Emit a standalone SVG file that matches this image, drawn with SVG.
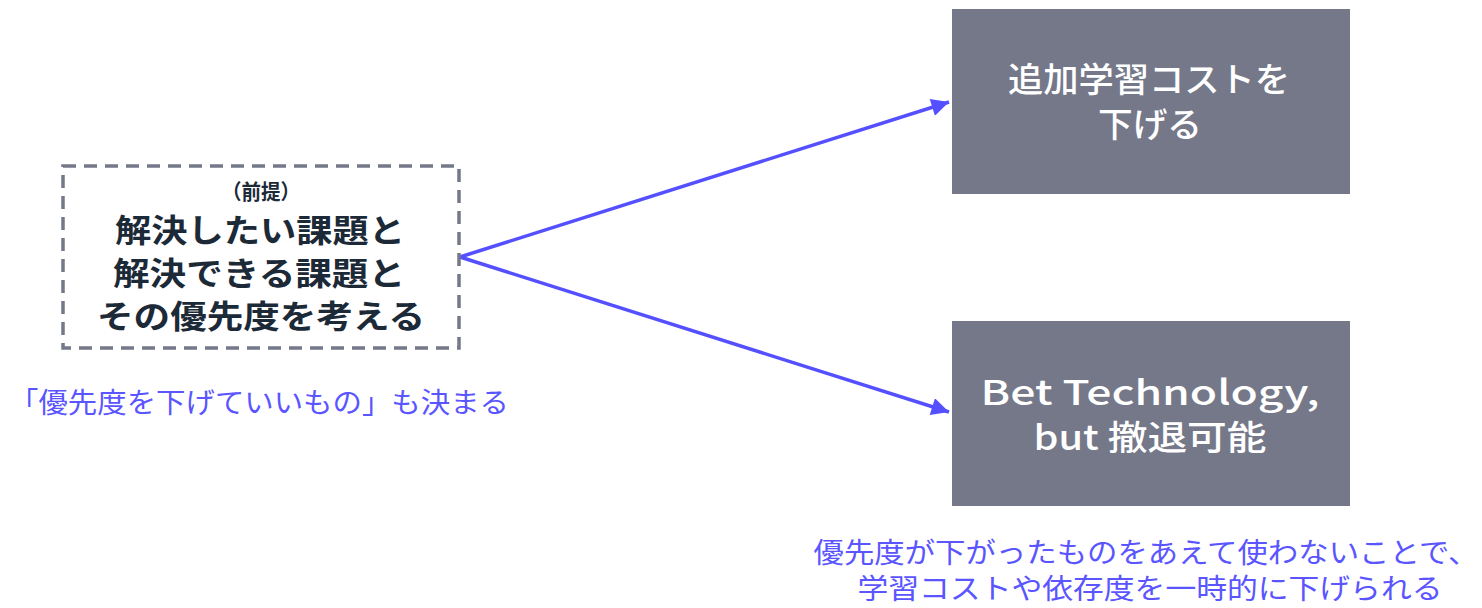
<svg xmlns="http://www.w3.org/2000/svg" width="1482" height="608" viewBox="0 0 1482 608">
<style>
.jp{font-family:"Noto Sans CJK JP","Noto Sans",sans-serif;}
.dark{fill:#1c2937;font-weight:bold;}
.white{fill:#ffffff;font-size:34px;font-weight:500;}
.note{fill:#5a55ff;font-size:28px;}
.box{fill:#747889;}
.conn{stroke:#5550ff;stroke-width:3.5;fill:none;}
</style>
<defs>
<marker id="ah" viewBox="0 0 10 10" refX="10" refY="5" markerWidth="7.5" markerHeight="5" markerUnits="strokeWidth" orient="auto">
<path d="M0,0 L10,5 L0,10 z" fill="#5550ff"/>
</marker>
</defs>
<g id="connectors">
<line class="conn" x1="460" y1="257" x2="949" y2="102" marker-end="url(#ah)"/>
<line class="conn" x1="460" y1="257" x2="949" y2="412" marker-end="url(#ah)"/>
</g>
<g id="premise">
<rect x="63" y="166" width="396" height="182" fill="none" stroke="#747889" stroke-width="3.5" stroke-dasharray="13,8"/>
<text class="jp dark" x="261" y="199" font-size="21" text-anchor="middle" textLength="78" lengthAdjust="spacingAndGlyphs">（前提）</text>
<text class="jp dark" x="260" y="242" font-size="32" text-anchor="middle" textLength="290" lengthAdjust="spacingAndGlyphs">解決したい課題と</text>
<text class="jp dark" x="259" y="285" font-size="32" text-anchor="middle" textLength="292" lengthAdjust="spacingAndGlyphs">解決できる課題と</text>
<text class="jp dark" x="261" y="328" font-size="32" text-anchor="middle" textLength="328" lengthAdjust="spacingAndGlyphs">その優先度を考える</text>
</g>
<g id="note-left">
<text class="jp note" x="259" y="413" text-anchor="middle" textLength="500" lengthAdjust="spacingAndGlyphs">「優先度を下げていいもの」も決まる</text>
</g>
<g id="node-top">
<rect class="box" x="952" y="9" width="398" height="185"/>
<text class="jp white" x="1149" y="92" text-anchor="middle" textLength="282" lengthAdjust="spacingAndGlyphs">追加学習コストを</text>
<text class="jp white" x="1150" y="137" text-anchor="middle" textLength="104" lengthAdjust="spacingAndGlyphs">下げる</text>
</g>
<g id="node-bottom">
<rect class="box" x="952" y="321" width="398" height="185"/>
<text class="jp white" x="1150" y="405" text-anchor="middle" textLength="339" lengthAdjust="spacingAndGlyphs">Bet Technology,</text>
<text class="jp white" x="1150" y="450" text-anchor="middle" textLength="233" lengthAdjust="spacingAndGlyphs">but 撤退可能</text>
</g>
<g id="note-right">
<text class="jp note" x="1146" y="563" font-size="23.5" text-anchor="middle" textLength="665" lengthAdjust="spacingAndGlyphs">優先度が下がったものをあえて使わないことで、</text>
<text class="jp note" x="1150" y="599" font-size="23.5" text-anchor="middle" textLength="585" lengthAdjust="spacingAndGlyphs">学習コストや依存度を一時的に下げられる</text>
</g>
</svg>
